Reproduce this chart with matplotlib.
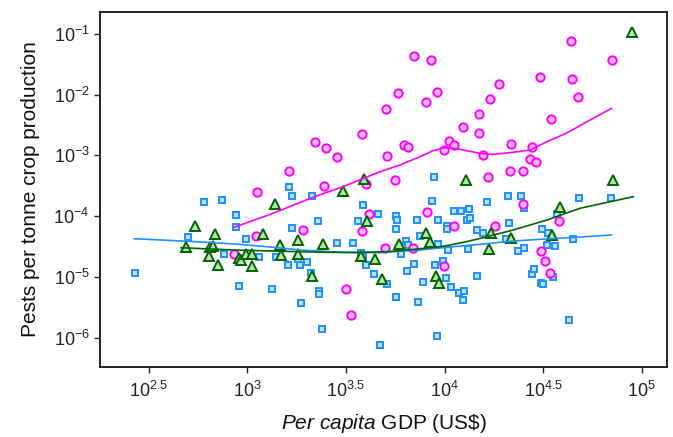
import numpy as np
import matplotlib
matplotlib.use("Agg")
import matplotlib.pyplot as plt
from matplotlib.ticker import FixedLocator, FixedFormatter, NullLocator

# ---- data (log10 of per-capita GDP, log10 of pests per tonne) ----
mag_x = [3.211, 3.343, 3.399, 3.456, 3.581, 3.701, 3.706, 3.764, 3.796, 3.816,
         3.846, 3.904, 3.929, 3.960, 3.995, 4.021, 4.049, 4.093, 4.176, 4.176,
         4.195, 4.232, 4.277, 4.331, 4.335, 4.397, 4.431, 4.441, 4.462, 4.485,
         4.541, 4.642, 4.647, 4.678, 4.847, 3.749, 4.218, 3.603, 3.389, 3.051,
         3.615, 3.583, 3.282, 3.044, 2.933, 3.698, 3.502, 3.527, 3.840, 3.911,
         4.049, 3.995, 4.396, 4.257, 4.581, 4.487, 4.510, 4.536]
mag_y = [-3.253, -2.786, -2.880, -3.023, -2.650, -2.243, -3.011, -1.975, -2.831, -2.868,
         -1.362, -2.128, -1.437, -1.954, -2.908, -2.760, -2.831, -2.539, -2.326, -2.638,
         -2.990, -2.074, -1.822, -3.258, -2.809, -3.258, -3.061, -2.868, -3.105, -1.712,
         -2.408, -1.115, -1.740, -2.046, -1.437, -3.406, -3.362, -3.477, -3.500, -3.608,
         -3.960, -4.250, -4.229, -4.322, -4.628, -4.525, -5.204, -5.627, -4.525, -3.928,
         -4.168, -4.816, -3.796, -4.168, -4.085, -4.574, -4.743, -4.941]

blue_x = [2.431, 2.701, 2.779, 2.873, 2.882, 2.941, 2.941, 2.958, 2.993, 3.059,
          3.125, 3.147, 3.208, 3.211, 3.228, 3.228, 3.255, 3.267, 3.271, 3.303,
          3.321, 3.329, 3.358, 3.362, 3.362, 3.379, 3.453, 3.537, 3.560, 3.575,
          3.585, 3.585, 3.602, 3.642, 3.661, 3.675, 3.706, 3.752, 3.761, 3.752,
          3.754, 3.780, 3.803, 3.813, 3.809, 3.846, 3.862, 3.864, 3.875, 3.890,
          3.938, 3.947, 3.949, 3.959, 3.966, 3.966, 3.992, 4.006, 4.013, 4.014,
          4.017, 4.033, 4.049, 4.075, 4.085, 4.097, 4.095, 4.123, 4.115, 4.130,
          4.119, 4.162, 4.163, 4.193, 4.217, 4.310, 4.320, 4.328, 4.373, 4.385,
          4.405, 4.404, 4.441, 4.455, 4.492, 4.490, 4.500, 4.519, 4.526, 4.548,
          4.559, 4.568, 4.629, 4.651, 4.680, 4.845]
blue_y = [-4.941, -4.339, -3.773, -3.735, -4.618, -3.977, -4.184, -5.150, -4.377, -4.678,
          -5.194, -4.678, -4.809, -3.521, -3.664, -4.201, -4.710, -4.809, -5.434, -4.755,
          -4.936, -3.669, -4.076, -5.237, -5.286, -5.862, -4.437, -4.442, -4.076, -4.612,
          -3.817, -4.678, -4.809, -4.960, -3.965, -6.120, -5.125, -3.998, -4.067, -4.212,
          -5.334, -4.623, -4.414, -4.475, -4.908, -4.783, -4.059, -5.413, -4.322, -5.084,
          -3.747, -3.365, -4.799, -5.967, -4.069, -4.462, -4.738, -5.018, -4.171, -4.220,
          -4.557, -5.174, -3.921, -5.270, -3.911, -5.240, -5.377, -3.883, -4.061, -4.039,
          -4.538, -4.229, -4.985, -4.283, -3.765, -4.380, -3.673, -4.117, -4.582, -3.673,
          -3.862, -4.520, -4.952, -4.865, -4.217, -5.095, -5.120, -4.470, -4.286, -5.002,
          -4.487, -3.960, -5.709, -4.373, -3.699, -3.699]

green_x = [2.689, 2.735, 2.835, 2.812, 2.828, 2.806, 2.850, 2.958, 2.967, 2.995,
           3.022, 3.025, 3.078, 3.142, 3.164, 3.172, 3.259, 3.259, 3.329, 3.382,
           3.487, 3.590, 3.608, 3.578, 3.647, 3.684, 3.769, 3.905, 3.927, 3.955,
           3.973, 4.107, 4.236, 4.225, 4.339, 4.545, 4.584, 4.853, 4.952]
green_y = [-4.513, -4.158, -4.289, -4.513, -4.487, -4.651, -4.804, -4.684, -4.722, -4.628,
           -4.628, -4.816, -4.289, -3.796, -4.480, -4.645, -4.398, -4.620, -4.993, -4.462,
           -3.587, -3.390, -4.077, -4.651, -4.706, -5.038, -4.452, -4.270, -4.418, -4.985,
           -5.100, -3.403, -4.281, -4.544, -4.363, -4.314, -3.845, -3.403, -0.977]

# smoothed trend lines
mag_line_x = [2.933, 3.130, 3.333, 3.485, 3.673, 3.774, 3.875, 3.941, 4.007, 4.078,
              4.179, 4.245, 4.347, 4.433, 4.519, 4.620, 4.722, 4.847]
mag_line_y = [-4.184, -3.954, -3.691, -3.516, -3.270, -3.159, -3.023, -2.924, -2.875, -2.901,
              -2.967, -2.984, -2.951, -2.913, -2.776, -2.633, -2.447, -2.227]
blue_line_x = [2.427, 2.699, 2.938, 3.115, 3.267, 3.470, 3.673, 3.875, 4.012, 4.179,
               4.347, 4.509, 4.661, 4.846]
blue_line_y = [-4.372, -4.414, -4.459, -4.508, -4.557, -4.595, -4.602, -4.557, -4.513, -4.464,
               -4.410, -4.377, -4.349, -4.311]
green_line_x = [2.664, 2.928, 3.216, 3.384, 3.556, 3.723, 3.890, 4.002, 4.103, 4.179,
                4.347, 4.519, 4.686, 4.956]
green_line_y = [-4.520, -4.557, -4.582, -4.595, -4.599, -4.582, -4.533, -4.492, -4.426, -4.368,
                -4.229, -4.064, -3.872, -3.681]

x_tick_exps = [2.5, 3, 3.5, 4, 4.5, 5]
x_tick_labels = [r'$10^{2.5}$', r'$10^{3}$', r'$10^{3.5}$', r'$10^{4}$', r'$10^{4.5}$', r'$10^{5}$']
y_tick_exps = [-6, -5, -4, -3, -2, -1]
y_tick_labels = [r'$10^{-6}$', r'$10^{-5}$', r'$10^{-4}$', r'$10^{-3}$', r'$10^{-2}$', r'$10^{-1}$']

# ---- style ----
plt.rcParams['font.family'] = ['Liberation Sans', 'DejaVu Sans']
plt.rcParams['mathtext.fontset'] = 'custom'
plt.rcParams['mathtext.rm'] = 'Liberation Sans'
plt.rcParams['mathtext.it'] = 'Liberation Sans:italic'
plt.rcParams['mathtext.bf'] = 'Liberation Sans:bold'

MAG_E, MAG_F = '#FF00FF', '#FFBDFF'
BLU_E, BLU_F = '#1E90FF', '#B8E4FF'
GRN_E, GRN_F = '#006400', '#B4E6A8'

fig = plt.figure(figsize=(6.73, 4.37), dpi=100)
ax = fig.add_axes([0.1486, 0.1609, 0.8429, 0.8123])

p = lambda a: 10.0 ** np.asarray(a, dtype=float)

ax.plot(p(blue_x), p(blue_y), ls='none', marker='s', ms=5.0, mfc=BLU_F, mec=BLU_E, mew=1.4, zorder=3)
ax.plot(p(mag_x), p(mag_y), ls='none', marker='o', ms=6.0, mfc=MAG_F, mec=MAG_E, mew=1.4, zorder=4)
ax.plot(p(green_x), p(green_y), ls='none', marker='^', ms=7.0, mfc=GRN_F, mec=GRN_E, mew=1.4, zorder=5)

ax.plot(p(mag_line_x), p(mag_line_y), color=MAG_E, lw=1.2, zorder=6)
ax.plot(p(blue_line_x), p(blue_line_y), color=BLU_E, lw=1.2, zorder=6)
ax.plot(p(green_line_x), p(green_line_y), color=GRN_E, lw=1.2, zorder=6)

ax.set_xscale('log')
ax.set_yscale('log')
ax.set_xlim(10 ** 2.253, 10 ** 5.129)
ax.set_ylim(10 ** -6.477, 10 ** -0.638)

ax.xaxis.set_major_locator(FixedLocator(p(x_tick_exps)))
ax.xaxis.set_major_formatter(FixedFormatter(x_tick_labels))
ax.yaxis.set_major_locator(FixedLocator(p(y_tick_exps)))
ax.yaxis.set_major_formatter(FixedFormatter(y_tick_labels))
ax.xaxis.set_minor_locator(NullLocator())
ax.yaxis.set_minor_locator(NullLocator())

ax.tick_params(axis='both', which='major', direction='out', length=4.5, width=1.0,
               labelsize=13, color='#222222', labelcolor='#222222')
ax.tick_params(axis='x', pad=6)
ax.tick_params(axis='y', pad=3)
for s in ax.spines.values():
    s.set_linewidth(1.4)
    s.set_color('#222222')

ax.set_xlabel(r'$\it{Per\ capita}$ GDP (US\$)', fontsize=15, color='#111111', labelpad=8)
ax.set_ylabel('Pests per tonne crop production', fontsize=15, color='#111111', labelpad=10)

fig.savefig('out.png', dpi=100)
